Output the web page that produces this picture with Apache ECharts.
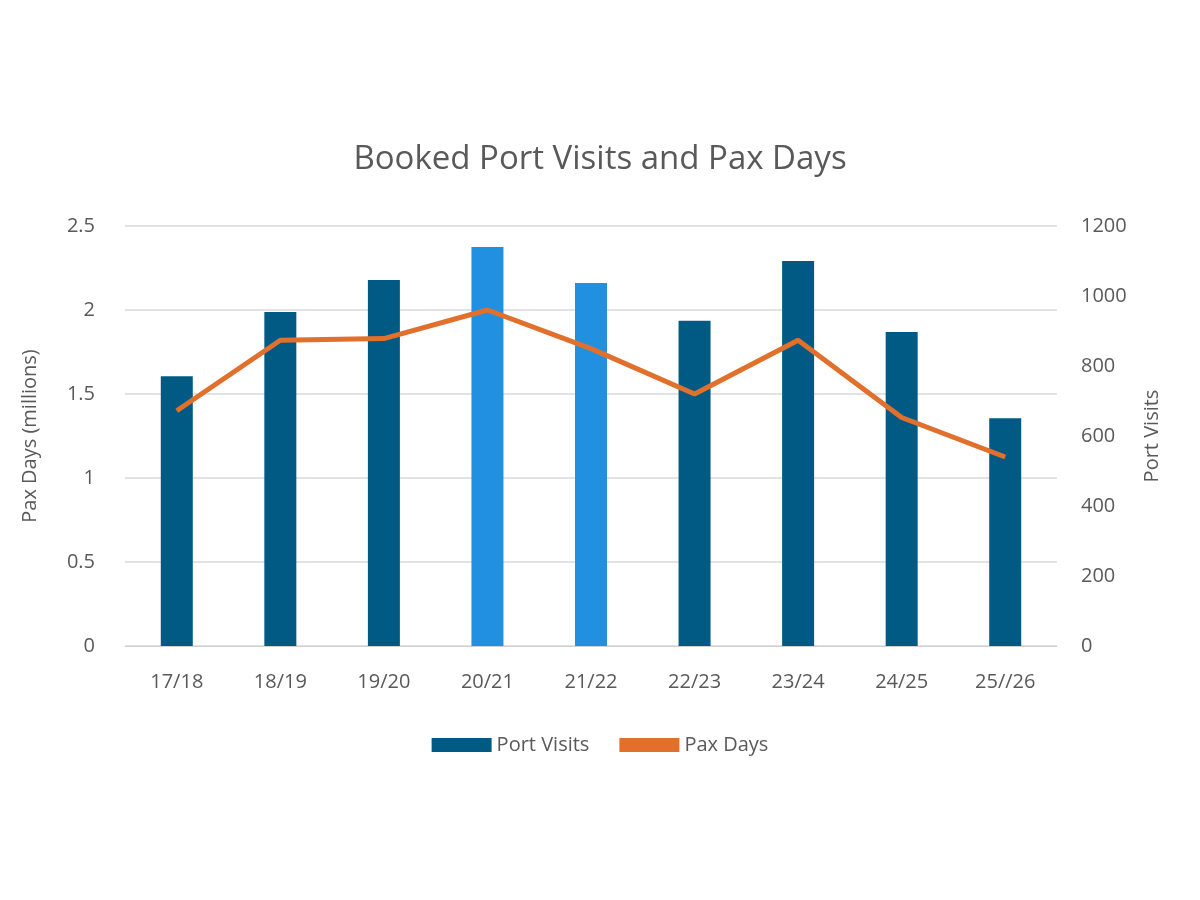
<!DOCTYPE html><html><head><meta charset="utf-8"><script src="https://cdn.jsdelivr.net/npm/echarts@6/dist/echarts.min.js"></script></head><body style="margin:0"><div id="c" style="width:1200px;height:900px"></div><script>
const categories=['17/18','18/19','19/20','20/21','21/22','22/23','23/24','24/25','25//26'];
const portVisits=[771,954,1046,1140,1037,929,1100,897,651];
const paxDays=[1.40,1.82,1.83,2.0,1.77,1.5,1.82,1.36,1.125];
const lightIdx=[3,4];
const dark='#005A84',light='#2290E0';
const c=echarts.init(document.getElementById('c'));
const ax={color:'#595959',fontSize:20,fontFamily:'Open Sans'};
c.setOption({
title:{text:'Booked Port Visits and Pax Days',left:'center',top:138,textStyle:{color:'#595959',fontSize:33,fontWeight:'normal',fontFamily:'Open Sans'}},
legend:{bottom:140,itemWidth:60,itemHeight:14,itemGap:30,textStyle:{color:'#595959',fontSize:20,fontFamily:'Open Sans'},data:[{name:'Port Visits',icon:'rect'},{name:'Pax Days',icon:'rect'}]},
grid:{left:125,right:143,top:226,bottom:254},
xAxis:{type:'category',data:categories,axisTick:{show:false},axisLine:{lineStyle:{color:'#d0d0d0'}},axisLabel:{...ax,margin:26}},
yAxis:[{type:'value',min:0,max:2.5,interval:0.5,name:'Pax Days (millions)',nameLocation:'middle',nameGap:85,nameTextStyle:ax,axisLabel:{...ax,margin:30},splitLine:{lineStyle:{color:'#d9d9d9',width:1.5}}},
{type:'value',min:0,max:1200,interval:200,name:'Port Visits',nameLocation:'middle',nameGap:85,nameTextStyle:ax,nameRotate:90,axisLabel:{...ax,margin:24,formatter:v=>String(v)},splitLine:{show:false}}],
series:[{name:'Port Visits',type:'bar',yAxisIndex:1,barWidth:32,itemStyle:{color:dark},data:portVisits.map((v,i)=>({value:v,itemStyle:{color:lightIdx.includes(i)?light:dark}}))},
{name:'Pax Days',type:'line',yAxisIndex:0,symbol:'none',lineStyle:{color:'#E0702C',width:5},itemStyle:{color:'#E0702C'},data:paxDays}]
});
</script></body></html>
